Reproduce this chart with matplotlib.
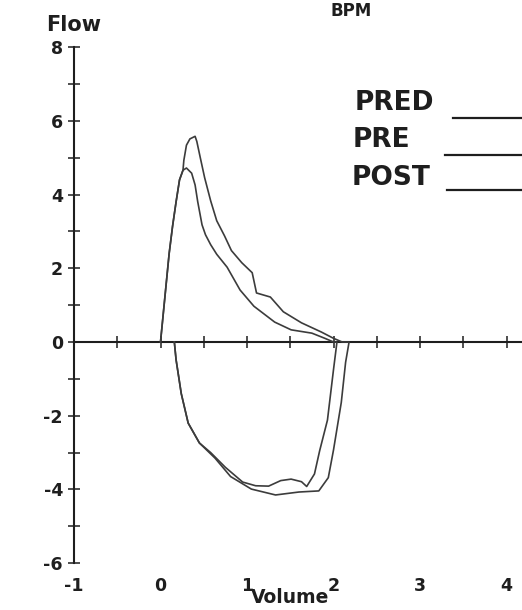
import matplotlib
matplotlib.use("Agg")
import matplotlib.pyplot as plt
from matplotlib.ticker import FixedLocator, NullFormatter

# ---------------- data ----------------
series_names = ["PRED", "PRE", "POST"]

# PRE loop: expiration (upper half) then inspiration (lower half)
pre_exp_v = [0.00, 0.10, 0.14, 0.18, 0.22, 0.26, 0.30, 0.36, 0.40, 0.43, 0.48, 0.52,
             0.58, 0.65, 0.77, 0.92, 1.08, 1.32, 1.51, 1.75, 1.90, 2.00]
pre_exp_f = [0.00, 2.40, 3.15, 3.80, 4.40, 4.66, 4.72, 4.58, 4.26, 3.81, 3.18, 2.91,
             2.64, 2.38, 2.03, 1.41, 0.97, 0.54, 0.33, 0.24, 0.10, 0.00]
pre_insp_v = [2.04, 2.00, 1.93, 1.84, 1.78, 1.69, 1.63, 1.51, 1.39, 1.25, 1.10, 0.95,
              0.75, 0.58, 0.45, 0.32, 0.24, 0.18, 0.16]
pre_insp_f = [0.00, -0.75, -2.12, -2.95, -3.58, -3.92, -3.79, -3.72, -3.76, -3.91, -3.90, -3.80,
              -3.40, -3.00, -2.74, -2.20, -1.40, -0.48, 0.00]

# POST loop
post_exp_v = [0.00, 0.10, 0.14, 0.18, 0.22, 0.26, 0.27, 0.30, 0.34, 0.40, 0.42, 0.46, 0.51,
              0.58, 0.65, 0.74, 0.82, 0.94, 1.06, 1.11, 1.27, 1.42, 1.63, 1.86, 2.00, 2.10]
post_exp_f = [0.00, 2.40, 3.15, 3.80, 4.40, 4.66, 4.93, 5.34, 5.51, 5.58, 5.44, 5.00, 4.46,
              3.83, 3.29, 2.88, 2.48, 2.15, 1.88, 1.33, 1.22, 0.82, 0.52, 0.27, 0.10, 0.00]
post_insp_v = [2.18, 2.14, 2.09, 2.00, 1.94, 1.83, 1.60, 1.33, 1.05, 0.81, 0.63, 0.45,
               0.32, 0.24, 0.18, 0.16]
post_insp_f = [0.00, -0.55, -1.64, -2.93, -3.68, -4.04, -4.07, -4.15, -3.99, -3.65, -3.15, -2.74,
               -2.20, -1.40, -0.48, 0.00]

x_tick_values = [-1, 0, 1, 2, 3, 4]
x_tick_labels = ["-1", "0", "1", "2", "3", "4"]
x_minor_values = [-0.5, 0.5, 1.5, 2.5, 3.5]
y_tick_values = [-6, -4, -2, 0, 2, 4, 6, 8]
y_tick_labels = ["-6", "-4", "-2", "0", "2", "4", "6", "8"]
y_minor_values = [-5, -3, -1, 1, 3, 5, 7]

# ---------------- figure ----------------
W, H = 522, 610
fig = plt.figure(figsize=(W / 100, H / 100), dpi=100)
ax = fig.add_axes([0, 0, 1, 1])

px_per_v = 86.5     # pixels per litre
axis_px = 74        # pixel column of V = -1 (the flow axis)
px_per_f = 36.86    # pixels per L/s
zero_py = 342       # pixel row of flow = 0

xmin = -1 - axis_px / px_per_v
xmax = xmin + W / px_per_v
ymax = zero_py / px_per_f
ymin = ymax - H / px_per_f
ax.set_xlim(xmin, xmax)
ax.set_ylim(ymin, ymax)

ink = "#1e1e1e"
curve_col = "#3c3c3c"

for s in ("top", "right"):
    ax.spines[s].set_visible(False)
ax.spines["left"].set_position(("data", -1))
ax.spines["left"].set_bounds(-6, 8)
ax.spines["bottom"].set_position(("data", 0))
ax.spines["bottom"].set_bounds(-1, xmax)
for s in ("left", "bottom"):
    ax.spines[s].set_color(ink)
    ax.spines[s].set_linewidth(1.5)

ax.xaxis.set_major_locator(FixedLocator(x_tick_values))
ax.xaxis.set_minor_locator(FixedLocator(x_minor_values))
ax.xaxis.set_major_formatter(NullFormatter())
ax.yaxis.set_major_locator(FixedLocator(y_tick_values))
ax.yaxis.set_minor_locator(FixedLocator(y_minor_values))
ax.set_yticklabels(y_tick_labels)
ax.tick_params(which="both", direction="inout", length=8, width=1.1, color=ink)
ax.tick_params(axis="y", which="major", pad=4, labelsize=12.5, labelcolor=ink)
for lab in ax.get_yticklabels():
    lab.set_fontweight("bold")

# x tick labels sit at the bottom of the chart
for v, lab in zip(x_tick_values, x_tick_labels):
    ax.text(v, -6.62, lab, ha="center", va="center", fontsize=12.5,
            fontweight="bold", color=ink)

ax.text(1.5, -7.20, "Volume", ha="center", va="bottom", fontsize=13.5,
        fontweight="bold", color=ink)
ax.text(-1.0, 8.45, "Flow", ha="center", va="baseline", fontsize=15,
        fontweight="bold", color=ink)
fig.text(351 / W, 1 - 2 / H, "BPM", ha="center", va="top", fontsize=12,
         fontweight="bold", color=ink)

# ---------------- curves ----------------
styles = {"PRED": dict(color=ink, lw=1.6),
          "PRE": dict(color=curve_col, lw=1.2),
          "POST": dict(color=curve_col, lw=1.2)}

ax.plot(pre_exp_v + pre_insp_v, pre_exp_f + pre_insp_f, **styles["PRE"],
        solid_joinstyle="round", zorder=3)
ax.plot(post_exp_v + post_insp_v, post_exp_f + post_insp_f, **styles["POST"],
        solid_joinstyle="round", zorder=3)

# ---------------- legend (text with line to its right) ----------------
leg_text_x = [355, 353, 352]
leg_text_y = [110, 147, 185]
leg_line_x0 = [453, 445, 447]
leg_line_y = [118, 155, 190]
for name, tx, ty, lx, ly in zip(series_names, leg_text_x, leg_text_y, leg_line_x0, leg_line_y):
    fig.text(tx / W, 1 - ty / H, name, ha="left", va="baseline", fontsize=19,
             fontweight="bold", color=ink)
    ax.plot([lx / W, 1.0], [1 - ly / H, 1 - ly / H], transform=fig.transFigure,
            color=ink, lw=1.6, clip_on=False)

fig.savefig("out.png", dpi=100, facecolor="white")
